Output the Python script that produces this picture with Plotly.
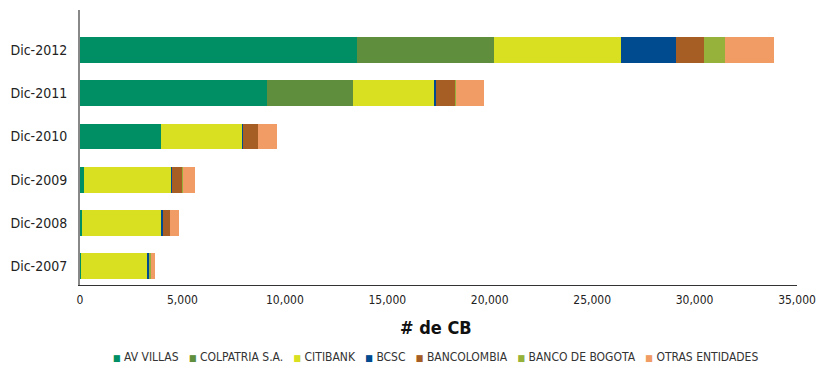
import plotly.graph_objects as go

categories = ["Dic-2007", "Dic-2008", "Dic-2009", "Dic-2010", "Dic-2011", "Dic-2012"]
series_names = ["AV VILLAS", "COLPATRIA S.A.", "CITIBANK", "BCSC", "BANCOLOMBIA", "BANCO DE BOGOTA", "OTRAS ENTIDADES"]
av_villas = [50, 100, 195, 3950, 9130, 13530]
colpatria = [0, 0, 0, 0, 4210, 6670]
citibank = [3220, 3900, 4250, 4000, 3980, 6210]
bcsc = [110, 65, 50, 30, 70, 2670]
bancolombia = [30, 330, 500, 700, 920, 1360]
banco_bogota = [40, 0, 40, 0, 45, 1035]
otras = [200, 440, 580, 930, 1360, 2390]
colors = ["#008F65", "#5F8F3C", "#D8E021", "#004A8F", "#A65E24", "#97B23A", "#F09C64"]
x_ticks = [0, 5000, 10000, 15000, 20000, 25000, 30000, 35000]

FONT = "DejaVu Sans Condensed, Liberation Sans Narrow, sans-serif"

fig = go.Figure()
for name, vals, col in zip(series_names,
                           [av_villas, colpatria, citibank, bcsc, bancolombia, banco_bogota, otras],
                           colors):
    fig.add_trace(go.Bar(y=categories, x=vals, name=name, orientation="h",
                         showlegend=False,
                         marker=dict(color=col, line=dict(width=0))))

# legend drawn as a single line of text with coloured squares
gap = "\u00a0" * 3
parts = []
for name, col in zip(series_names, colors):
    parts.append(f'<span style="color:{col};font-size:9px">■</span>\u00a0{name}')
legend_text = gap.join(parts)

fig.add_annotation(text=legend_text, xref="paper", yref="paper",
                   x=0.4965, y=-0.262, xanchor="center", yanchor="middle",
                   showarrow=False, font=dict(size=12, color="#333", family=FONT))

fig.add_annotation(text="<b># de CB</b>", xref="paper", yref="paper",
                   x=0.4965, y=-0.153, xanchor="center", yanchor="middle",
                   showarrow=False, font=dict(size=18, color="#111", family=FONT))

fig.update_layout(
    barmode="stack",
    bargap=0.4,
    width=816, height=365,
    margin=dict(l=80, r=19, t=10, b=80),
    paper_bgcolor="white", plot_bgcolor="white",
    font=dict(family=FONT, color="#222", size=13),
    showlegend=False,
    xaxis=dict(range=[0, 35000], tickvals=x_ticks, tickformat=",d",
               showgrid=False, zeroline=False, automargin=False,
               showline=True, linecolor="#333", linewidth=1,
               ticks="", tickfont=dict(size=12), ticklabelstandoff=4,
               ticklabeloverflow="allow"),
    yaxis=dict(range=[-0.44, 5.93], showgrid=False, zeroline=False, automargin=False,
               showline=True, linecolor="#888", linewidth=2,
               ticks="", tickfont=dict(size=14), ticksuffix="  "),
)

fig.write_html("out.html",
               config={"displayModeBar": False},
               post_script="document.body.style.margin='0';document.body.style.overflow='hidden';")
